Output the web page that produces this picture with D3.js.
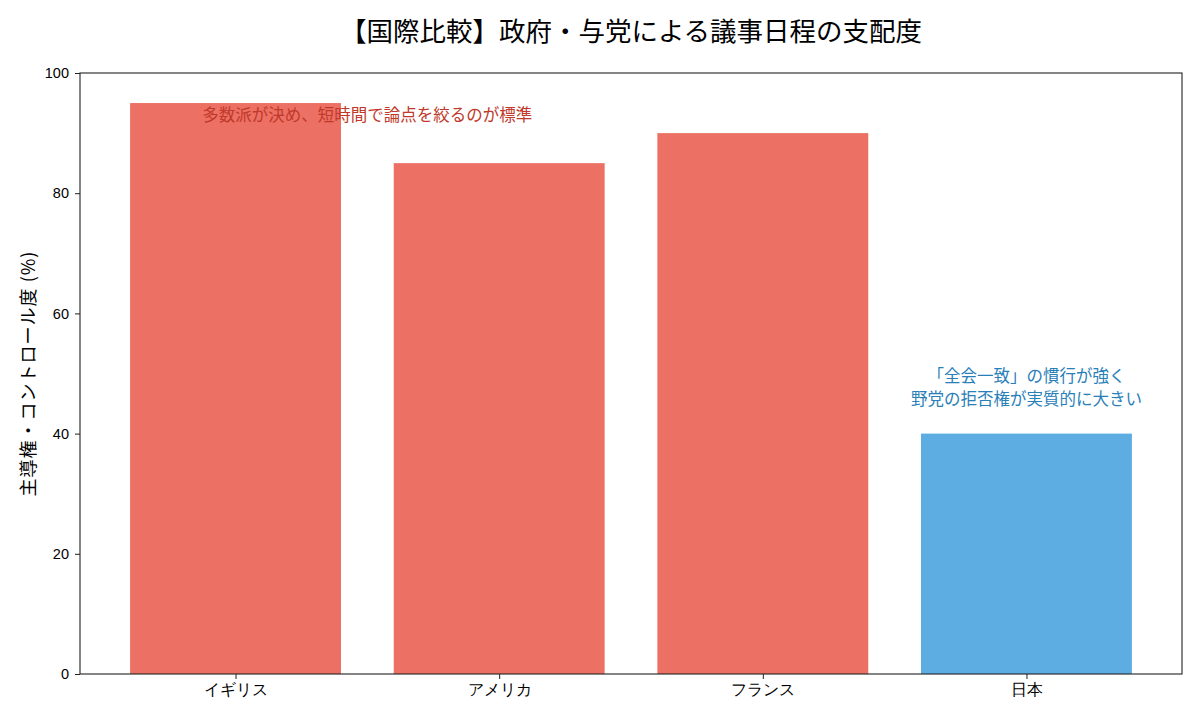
<!DOCTYPE html>
<html>
<head>
<meta charset="utf-8">
<script src="https://cdn.jsdelivr.net/npm/d3@7"></script>
<style>
  body { margin: 0; background: #fff; }
  svg { font-family: "Noto Sans CJK JP", "Noto Sans", sans-serif; }
</style>
</head>
<body>
<svg id="chart" width="1200" height="720"></svg>
<script>
// データ
const countries = ['イギリス', 'アメリカ', 'フランス', '日本'];
const control = [95, 85, 90, 40];
const barColors = ['#EC7063', '#EC7063', '#EC7063', '#5DADE2'];
const yTicks = [0, 20, 40, 60, 80, 100];

const notes = [
    { idx: 0.5, value: 93, lines: ['多数派が決め、短時間で論点を絞るのが標準'], color: '#c0392b' },
    { idx: 3, value: 45.8, lines: ['「全会一致」の慣行が強く', '野党の拒否権が実質的に大きい'], color: '#2980b9' },
];

const W = 1200, H = 720;
const margin = { left: 80, right: 18, top: 73, bottom: 46 };
const plotW = W - margin.left - margin.right;
const plotH = H - margin.top - margin.bottom;

const svg = d3.select('#chart');
const g = svg.append('g').attr('transform', `translate(${margin.left},${margin.top})`);

// matplotlib風: 棒幅0.8、左右5%の余白
const x = d3.scaleLinear().domain([-0.59, countries.length - 1 + 0.59]).range([0, plotW]);
const y = d3.scaleLinear().domain([0, 100]).range([plotH, 0]);
const barW = x(0.8) - x(0);

g.selectAll('rect.bar')
    .data(control)
    .enter()
    .append('rect')
    .attr('class', 'bar')
    .attr('x', (d, i) => x(i) - barW / 2)
    .attr('y', d => y(d))
    .attr('width', barW)
    .attr('height', d => y(0) - y(d))
    .attr('fill', (d, i) => barColors[i]);

// 注釈（行ごとに別のtext）
notes.forEach(n => {
    const lh = 23;
    const start = -(n.lines.length - 1) * lh;
    n.lines.forEach((s, k) => {
        g.append('text')
            .attr('x', x(n.idx))
            .attr('y', y(n.value) + start + k * lh)
            .attr('dy', '0.35em')
            .attr('text-anchor', 'middle')
            .attr('fill', n.color)
            .style('font-size', '16.5px')
            .text(s);
    });
});

// 軸
const yAxis = d3.axisLeft(y).tickValues(yTicks).tickSize(5).tickPadding(6);
const yG = g.append('g').call(yAxis);
yG.select('.domain').remove();
yG.selectAll('text').style('font-size', '14.5px').attr('fill', '#000');
yG.selectAll('line').attr('stroke', '#222');

const xAxis = d3.axisBottom(x).tickValues(d3.range(countries.length))
    .tickFormat(i => countries[i]).tickSize(5).tickPadding(5);
const xG = g.append('g').attr('transform', `translate(0,${plotH})`).call(xAxis);
xG.select('.domain').remove();
xG.selectAll('text').style('font-size', '15.5px').attr('fill', '#000');
xG.selectAll('line').attr('stroke', '#222');

// 枠
g.append('rect')
    .attr('width', plotW)
    .attr('height', plotH)
    .attr('fill', 'none')
    .attr('stroke', '#222')
    .attr('stroke-width', 1.1);

// タイトル
svg.append('text')
    .attr('x', margin.left + plotW / 2)
    .attr('y', 41)
    .attr('text-anchor', 'middle')
    .style('font-size', '26.5px')
    .attr('fill', '#000')
    .text('【国際比較】政府・与党による議事日程の支配度');

// Y軸ラベル
svg.append('text')
    .attr('transform', `translate(35,${margin.top + plotH / 2}) rotate(-90)`)
    .attr('text-anchor', 'middle')
    .style('font-size', '18px')
    .style('letter-spacing', '1px')
    .attr('fill', '#000')
    .text('主導権・コントロール度 (%)');
</script>
</body>
</html>
